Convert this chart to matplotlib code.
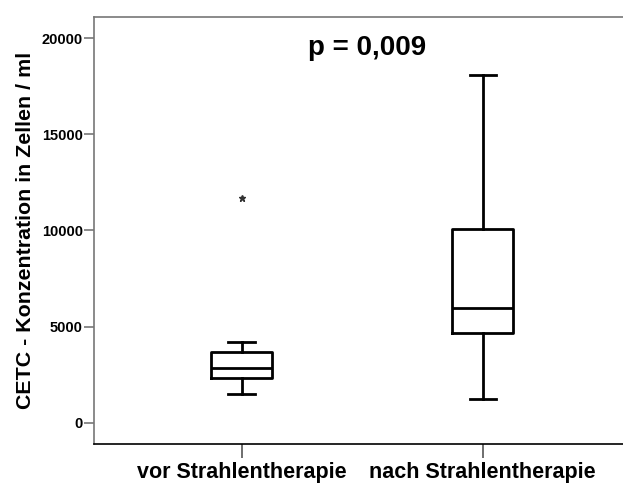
import matplotlib
matplotlib.use("Agg")
import matplotlib.pyplot as plt

plt.rcParams['font.family'] = ['Liberation Sans', 'DejaVu Sans']

groups = ["vor Strahlentherapie", "nach Strahlentherapie"]
whislo = [1480, 1220]
q1 = [2310, 4650]
med = [2850, 5980]
q3 = [3680, 10060]
whishi = [4180, 18100]
outliers = [[11700], []]
p_text = "p = 0,009"

stats = []
for i, name in enumerate(groups):
    stats.append(dict(label=name, whislo=whislo[i], q1=q1[i], med=med[i],
                      q3=q3[i], whishi=whishi[i], fliers=outliers[i]))

fig = plt.figure(figsize=(6.23, 4.83), dpi=100)
ax = fig.add_axes([94/623, 1 - 444/483, 537/623, 427/483])

line = dict(color='black', linewidth=2.0)
ax.bxp(stats, positions=[1, 2], widths=0.253, capwidths=0.11,
       boxprops=line, whiskerprops=line, capprops=line, medianprops=line,
       flierprops=dict(marker='*', markersize=5, markerfacecolor='#333333',
                       markeredgecolor='#333333', linestyle='none'))

ax.set_xlim(0.387, 2.615)
ax.set_ylim(-1110, 21110)
ax.set_yticks([0, 5000, 10000, 15000, 20000])
ax.set_yticklabels(['0', '5000', '10000', '15000', '20000'],
                   fontsize=10.5, fontweight='bold')
ax.set_xticks([1, 2])
ax.set_xticklabels(groups, fontsize=15.5, fontweight='bold')

ax.spines['right'].set_visible(False)
ax.spines['left'].set_color('#777777')
ax.spines['top'].set_color('#777777')
ax.spines['bottom'].set_color('black')
for s in ax.spines.values():
    s.set_linewidth(1.2)
ax.tick_params(axis='y', length=7, width=1.2, color='#777777', pad=1)
ax.tick_params(axis='x', length=10, width=1.2, color='#555555', pad=3)

ax.set_ylabel("CETC - Konzentration in Zellen / ml", fontsize=15.4,
              fontweight='bold', labelpad=5)
ax.text(367/623, 1 - 48/483, p_text, transform=fig.transFigure, fontsize=20,
        fontweight='bold', ha='center', va='center')

fig.savefig("out.png", dpi=100)
